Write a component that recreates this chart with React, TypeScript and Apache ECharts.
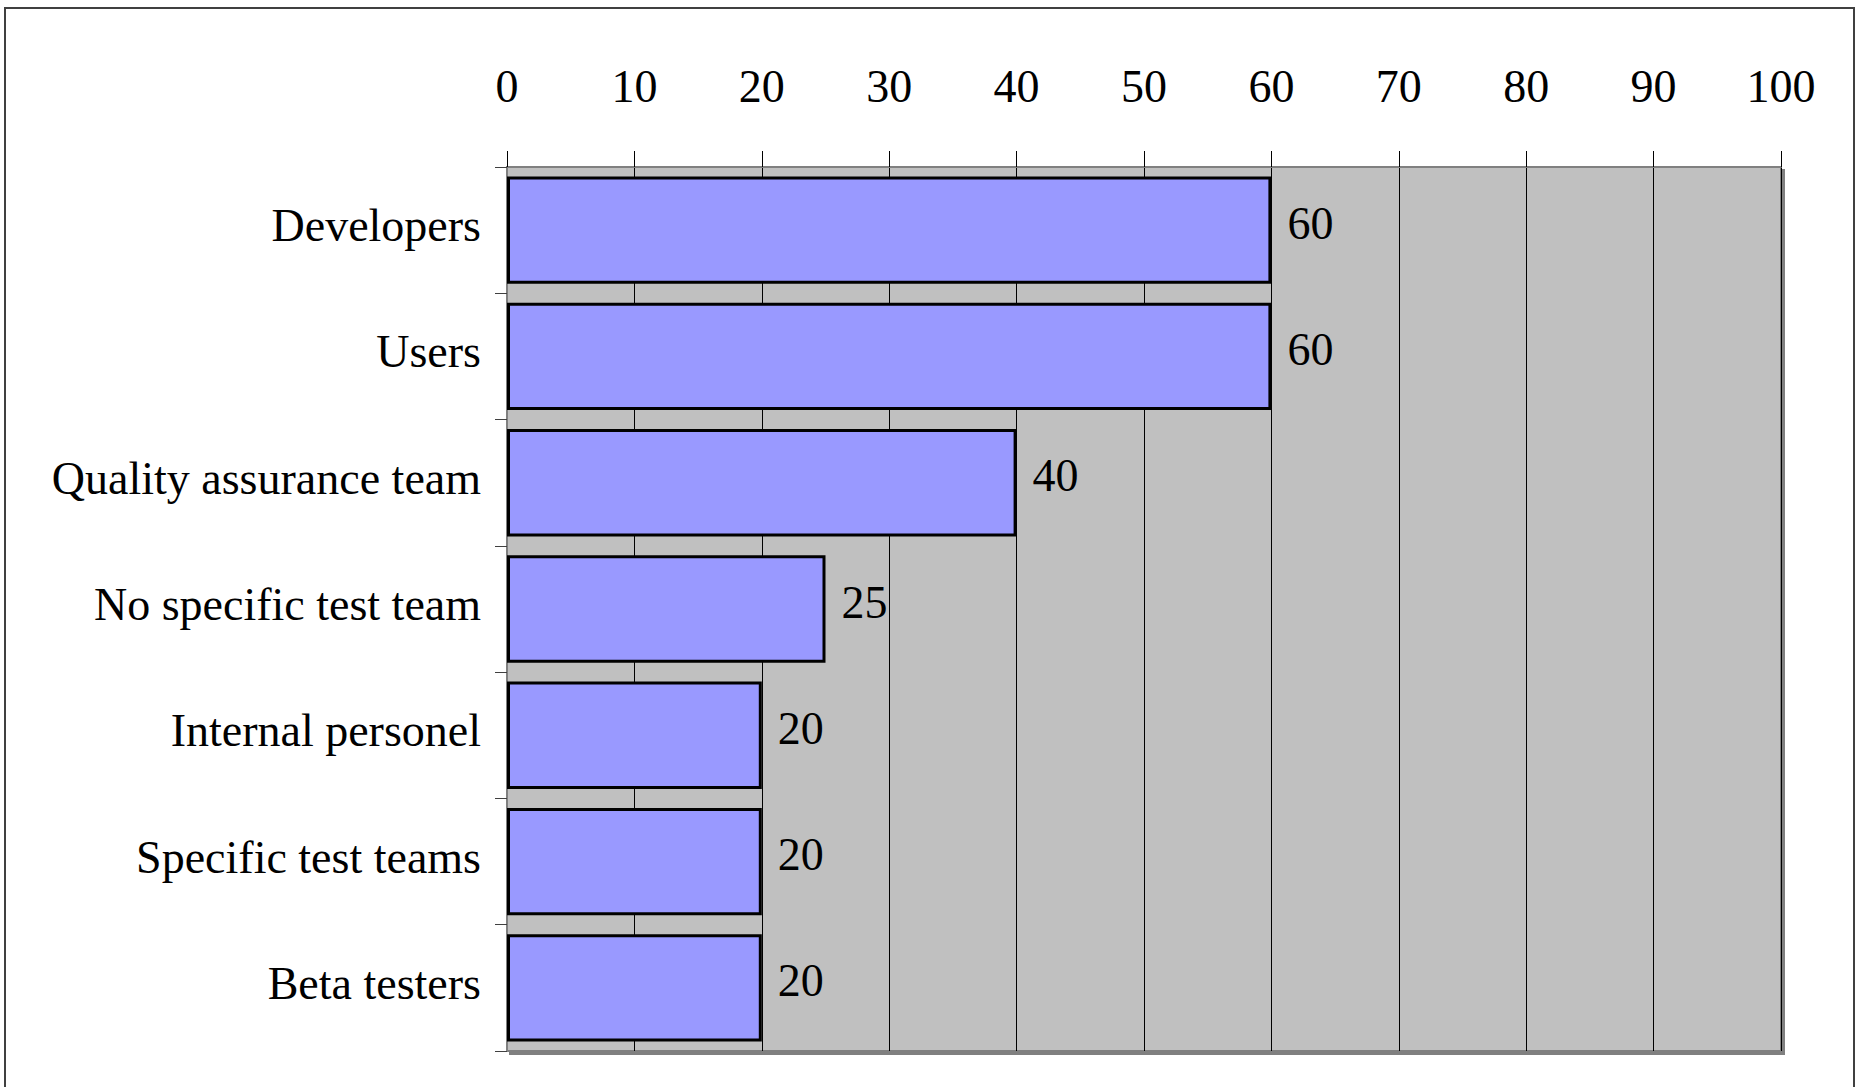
import React, { useEffect, useRef } from "react";
import * as echarts from "echarts";

const categories = [
  "Developers",
  "Users",
  "Quality assurance team",
  "No specific test team",
  "Internal personel",
  "Specific test teams",
  "Beta testers",
];
const values = [60, 60, 40, 25, 20, 20, 20];
const axisMin = 0;
const axisMax = 100;
const axisStep = 10;

const FONT = "'Liberation Serif', 'Times New Roman', serif";

export default function App() {
  const ref = useRef<HTMLDivElement>(null);
  useEffect(() => {
    if (!ref.current) return;
    const chart = echarts.init(ref.current, undefined, { renderer: "svg" });
    chart.setOption({
      animation: false,
      backgroundColor: "#ffffff",
      textStyle: { fontFamily: FONT },
      graphic: [
        {
          type: "rect",
          shape: { x: 5, y: 8, width: 1849, height: 1100 },
          style: { fill: "none", stroke: "#404040", lineWidth: 2 },
          z: 100,
        },
      ],
      grid: {
        left: 507,
        top: 167,
        width: 1274,
        height: 884,
        show: true,
        backgroundColor: "#C0C0C0",
        borderColor: "#808080",
        borderWidth: 2,
        shadowColor: "#808080",
        shadowOffsetX: 3,
        shadowOffsetY: 3,
        shadowBlur: 0,
      },
      xAxis: {
        type: "value",
        position: "top",
        min: axisMin,
        max: axisMax,
        interval: axisStep,
        axisLine: { show: true, lineStyle: { color: "#808080", width: 2 } },
        axisTick: { show: true, length: 16, lineStyle: { color: "#000000", width: 1 } },
        axisLabel: { fontSize: 46, color: "#000000", fontFamily: FONT, margin: 58 },
        splitLine: { show: true, lineStyle: { color: "#000000", width: 1 } },
      },
      yAxis: {
        type: "category",
        inverse: true,
        data: categories,
        axisLine: { show: true, lineStyle: { color: "#808080", width: 2 } },
        axisTick: { show: true, length: 12, alignWithLabel: false, lineStyle: { color: "#404040", width: 1 } },
        axisLabel: {
          fontSize: 46,
          color: "#000000",
          fontFamily: FONT,
          margin: 26,
          verticalAlign: "bottom",
          lineHeight: 9,
        },
        splitLine: { show: false },
      },
      series: [
        {
          type: "bar",
          data: values,
          barCategoryGap: "15%",
          itemStyle: { color: "#9999FF", borderColor: "#000000", borderWidth: 3 },
          label: {
            show: true,
            position: "right",
            distance: 16,
            offset: [0, -7],
            fontSize: 46,
            color: "#000000",
            fontFamily: FONT,
          },
        },
      ],
    });
    return () => chart.dispose();
  }, []);
  return (
    <div
      ref={ref}
      style={{ position: "fixed", left: 0, top: 0, width: 1862, height: 1087 }}
    />
  );
}
